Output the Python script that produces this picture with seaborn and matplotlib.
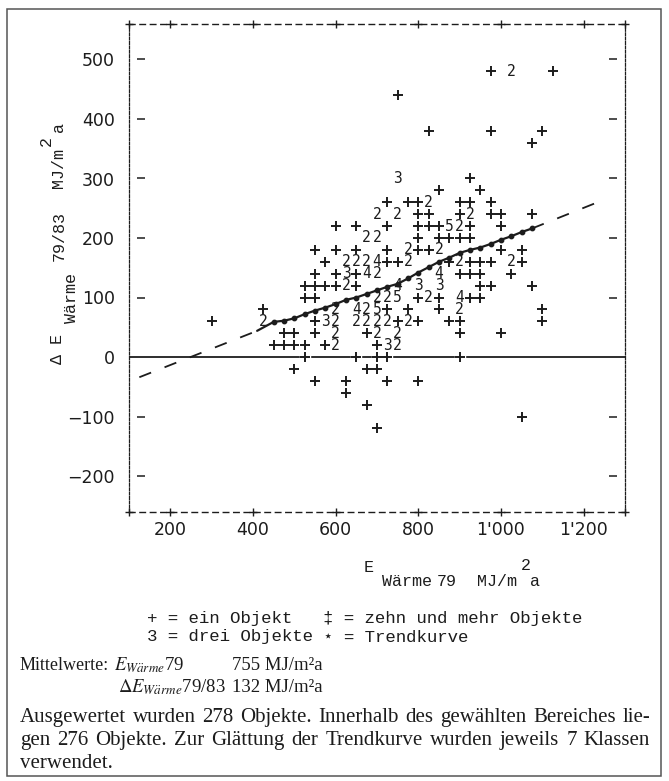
#--Import libraries--#
import pandas as pd
import seaborn as sns
import matplotlib.pyplot as plt
from matplotlib.patches import Rectangle

#--Data (one entry per printed character)--#
obj_x = [975, 1025, 1125,
         750,
         825, 975, 1100,
         1075,
         750, 925,
         850, 950,
         725, 775, 800, 825, 900, 925, 975,
         700, 750, 800, 825, 900, 925, 975, 1000, 1075,
         600, 650, 725, 800, 825, 850, 875, 900, 925, 1000,
         675, 700, 800, 850, 875, 900, 925,
         550, 600, 650, 725, 775, 800, 825, 850, 1000, 1050,
         575, 625, 650, 675, 700, 725, 750, 775, 875, 900, 925, 950, 975, 1025, 1050,
         550, 600, 625, 650, 675, 700, 850, 900, 925, 950, 1025,
         525, 550, 575, 600, 625, 650, 750, 800, 850, 950, 975, 1075,
         525, 550, 700, 725, 750, 800, 825, 850, 900, 925, 950,
         425, 600, 650, 675, 700, 725, 775, 850, 900, 1100,
         300, 425, 550, 575, 600, 650, 675, 700, 725, 750, 775, 800, 875, 900, 1100,
         475, 500, 550, 600, 675, 700, 750, 900, 1000,
         450, 475, 500, 525, 575, 600, 700, 725, 750,
         525, 650, 700, 725, 900,
         500, 675, 700,
         550, 625, 725, 800,
         625, 675, 1050, 700]
obj_y = [480, 480, 480,
         440,
         380, 380, 380,
         360,
         300, 300,
         280, 280,
         260, 260, 260, 260, 260, 260, 260,
         240, 240, 240, 240, 240, 240, 240, 240, 240,
         220, 220, 220, 220, 220, 220, 220, 220, 220, 220,
         200, 200, 200, 200, 200, 200, 200,
         180, 180, 180, 180, 180, 180, 180, 180, 180, 180,
         160, 160, 160, 160, 160, 160, 160, 160, 160, 160, 160, 160, 160, 160, 160,
         140, 140, 140, 140, 140, 140, 140, 140, 140, 140, 140,
         120, 120, 120, 120, 120, 120, 120, 120, 120, 120, 120, 120,
         100, 100, 100, 100, 100, 100, 100, 100, 100, 100, 100,
         80, 80, 80, 80, 80, 80, 80, 80, 80, 80,
         60, 60, 60, 60, 60, 60, 60, 60, 60, 60, 60, 60, 60, 60, 60,
         40, 40, 40, 40, 40, 40, 40, 40, 40,
         20, 20, 20, 20, 20, 20, 20, 20, 20,
         0, 0, 0, 0, 0,
         -20, -20, -20,
         -40, -40, -40, -40,
         -60, -80, -100, -120]
obj_n = [1, 2, 1,
         1,
         1, 1, 1,
         1,
         3, 1,
         1, 1,
         1, 1, 1, 2, 1, 1, 1,
         2, 2, 1, 1, 1, 2, 1, 1, 1,
         1, 1, 1, 1, 1, 1, 5, 2, 1, 1,
         2, 2, 1, 1, 1, 1, 1,
         1, 1, 1, 1, 2, 1, 1, 2, 1, 1,
         1, 2, 2, 2, 4, 1, 1, 2, 1, 2, 1, 1, 1, 2, 1,
         1, 1, 3, 1, 4, 2, 4, 1, 1, 1, 1,
         1, 1, 1, 1, 2, 1, 4, 3, 3, 1, 1, 1,
         1, 1, 2, 2, 5, 1, 2, 1, 4, 1, 1,
         1, 2, 4, 2, 5, 1, 1, 1, 2, 1,
         1, 2, 1, 3, 2, 2, 2, 2, 2, 1, 2, 1, 1, 1, 1,
         1, 1, 1, 2, 1, 2, 2, 1, 1,
         1, 1, 1, 1, 1, 2, 1, 3, 2,
         1, 1, 1, 1, 1,
         1, 1, 1,
         1, 1, 1, 1,
         1, 1, 1, 1]

#--Trend curve (printed as * characters) and its dashed extension--#
trend_x = [410, 450, 475, 500, 525, 550, 575, 600, 625, 650, 675, 700, 725,
           750, 775, 800, 825, 850, 875, 900, 925, 950, 975, 1000, 1025, 1050, 1075]
trend_y = [44, 59, 61, 65, 72, 78, 83, 89, 96, 100, 106, 112, 118,
           123, 132, 142, 151, 160, 167, 175, 180, 184, 190, 197, 203, 210, 216]
dash_left_x = [125, 410]
dash_left_y = [-34, 44]
dash_right_x = [1075, 1230]
dash_right_y = [216, 259]

x_ticks = [200, 400, 600, 800, 1000, 1200]
x_tick_labels = ["200", "400", "600", "800", "1'000", "1'200"]
y_ticks = [-200, -100, 0, 100, 200, 300, 400, 500]
y_tick_labels = ["\u2212200", "\u2212100", "0", "100", "200", "300", "400", "500"]
x_range = (100, 1300)
y_range = (-260, 560)

legend_lines = [("+ = ein Objekt", "\u2021 = zehn und mehr Objekte"),
                ("3 = drei Objekte", "\u22c6 = Trendkurve")]
caption_lines = ["Ausgewertet wurden 278 Objekte. Innerhalb des gewählten Bereiches lie-",
                 "gen 276 Objekte. Zur Glättung der Trendkurve wurden jeweils 7 Klassen",
                 "verwendet."]

df = pd.DataFrame({'x': obj_x, 'y': obj_y, 'n': obj_n})
df['char'] = df['n'].map(lambda n: '+' if n == 1 else ('\u2021' if n >= 10 else str(n)))

#--Figure setup--#
sns.set_style('white')
plt.rcParams['font.family'] = ['DejaVu Sans']
ink = '#1c1c1c'
W, H = 669, 781
fig = plt.figure(figsize=(W / 100, H / 100), dpi=100)
fig.patch.set_facecolor('white')

def ftext(px, py, s, **kw):
    return fig.text(px / W, 1 - py / H, s, color=ink, **kw)

# outer frame around figure + caption
fig.patches.append(Rectangle((7 / W, 1 - 776 / H), (661 - 7) / W, (776 - 9) / H,
                             transform=fig.transFigure, fill=False, ec='#555', lw=1.1))

ax = fig.add_axes([129 / W, 1 - 511.7 / H, 496 / W, (511.7 - 23.8) / H])
ax.set_xlim(*x_range)
ax.set_ylim(*y_range)

#--Printer-style frame--#
for s in ['left', 'right']:
    ax.spines[s].set_linestyle((0, (2.2, 1.3)))
    ax.spines[s].set_linewidth(0.9)
    ax.spines[s].set_color(ink)
for s in ['top', 'bottom']:
    ax.spines[s].set_linestyle((0, (4, 3.5)))
    ax.spines[s].set_linewidth(1.0)
    ax.spines[s].set_color(ink)

frame_x = x_ticks + list(x_range)
for yy in [0, 1]:
    ax.scatter(frame_x, [yy] * len(frame_x), transform=ax.get_xaxis_transform(),
               marker='+', s=30, lw=1.0, color=ink, clip_on=False, zorder=5)
tick_marks = [t for t in y_ticks if t != 0]
for xx in [0.024, 0.976]:
    ax.scatter([xx] * len(tick_marks), tick_marks, transform=ax.get_yaxis_transform(),
               marker='_', s=28, lw=1.1, color=ink, zorder=5)

ax.set_xticks(x_ticks, x_tick_labels)
ax.set_yticks(y_ticks, y_tick_labels)
ax.tick_params(axis='x', length=0, pad=7, labelsize=12.5, colors=ink)
ax.tick_params(axis='y', length=0, pad=10, labelsize=12.5, colors=ink)

# zero line
ax.axhline(0, color=ink, lw=1.3, zorder=1)

#--Objects: + for one, digit for several--#
singles = df[df['n'] == 1]
ax.scatter(df['x'], df['y'], marker='s', s=45, color='white', zorder=2)
sns.scatterplot(data=singles, x='x', y='y', marker='+', s=48, linewidth=1.4,
                color=ink, ax=ax, zorder=3, legend=False)
for _, r in df[df['n'] > 1].iterrows():
    ax.text(r['x'], r['y'], r['char'], ha='center', va='center', fontsize=10.5,
            family='DejaVu Sans Mono', color=ink, zorder=3)

#--Trend curve--#
sns.lineplot(x=trend_x, y=trend_y, color=ink, lw=1.6, ax=ax, zorder=4)
ax.scatter(trend_x[1:], trend_y[1:], marker='o', s=10, color=ink, zorder=4)
sns.lineplot(x=dash_left_x, y=dash_left_y, color=ink, lw=1.3, ax=ax,
             linestyle=(0, (7, 8)), zorder=4)
sns.lineplot(x=dash_right_x, y=dash_right_y, color=ink, lw=1.3, ax=ax,
             linestyle=(0, (7, 8)), zorder=4)
ax.set_xlabel('')
ax.set_ylabel('')

#--Axis labels in typewriter style--#
mono = ['Liberation Mono', 'DejaVu Sans Mono']
lab = dict(fontsize=12, family=mono, ha='center', va='center')
ftext(369, 567, 'E', **lab)
ftext(407, 582, 'Wärme', **lab)
ftext(447, 581, '79', **lab)
ftext(497, 581, 'MJ/m', **lab)
ftext(526, 566, '2', **lab)
ftext(535, 582, 'a', **lab)

ftext(58, 349, '\u0394 E', rotation=90, **lab)
ftext(72, 298, 'Wärme', rotation=90, **lab)
ftext(59, 236, '79/83', rotation=90, **lab)
ftext(59, 168, 'MJ/m', rotation=90, **lab)
ftext(46, 141, '2', rotation=90, **lab)
ftext(59, 127, 'a', rotation=90, **lab)

#--Legend--#
for i, (left, right) in enumerate(legend_lines):
    ftext(147, 618 + 19 * i, left, fontsize=12.5, family=mono, va='center')
    ftext(323, 618 + 19 * i, right, fontsize=12.5, family=mono, va='center')

#--Mean values and caption--#
serif = ['Liberation Serif', 'DejaVu Serif']
ftext(20, 665, 'Mittelwerte:', fontsize=13, family=serif, va='center')
ftext(114, 665, r'$E_{W\ddot{a}rme}$79', fontsize=13.5, family=serif,
      math_fontfamily='stix', va='center')
ftext(232, 665, '755 MJ/m²a', fontsize=13.5, family=serif, va='center')
ftext(118, 687, r'$\Delta E_{W\ddot{a}rme}$79/83', fontsize=13.5, family=serif,
      math_fontfamily='stix', va='center')
ftext(232, 687, '132 MJ/m²a', fontsize=13.5, family=serif, va='center')

# caption set justified to the frame width, like the printed page
fig.canvas.draw()
rend = fig.canvas.get_renderer()
left_px, right_px = 20, 650
cap = dict(fontsize=15, family=serif, va='baseline')
for i, line in enumerate(caption_lines):
    py = 722 + 23 * i
    words = line.split(' ')
    if i == len(caption_lines) - 1:
        ftext(left_px, py, line, **cap)
        continue
    arts = [ftext(0, py, w, **cap) for w in words]
    widths = [a.get_window_extent(rend).width for a in arts]
    gap = (right_px - left_px - sum(widths)) / (len(words) - 1)
    x = left_px
    for a, w in zip(arts, widths):
        a.set_x(x / W)
        x += w + gap

fig.savefig('out.png', dpi=100, facecolor='white')
